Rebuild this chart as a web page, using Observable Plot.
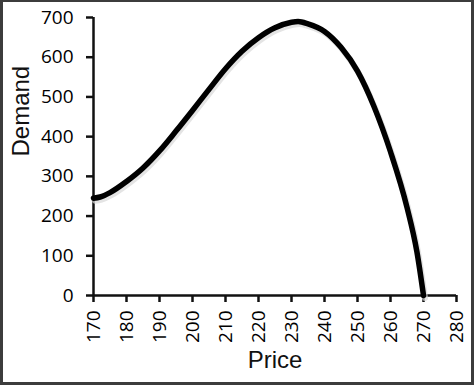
<!DOCTYPE html>
<html>
<head>
<meta charset="utf-8">
<script src="https://cdn.jsdelivr.net/npm/d3@7"></script>
<script src="https://cdn.jsdelivr.net/npm/@observablehq/plot@0.6"></script>
<style>
  html, body { margin: 0; padding: 0; background: #fff; }
  #wrap { position: relative; width: 474px; height: 385px; }
  #wrap svg { display: block; }
  #frame { position: absolute; left: 0; top: 0; width: 474px; height: 385px; box-sizing: border-box;
           border-style: solid; border-color: #3c3c3c; border-width: 2px 3px 3px 3px; pointer-events: none; }
</style>
</head>
<body>
<div id="wrap"><div id="frame"></div></div>
<script>
const price = [170, 172, 175, 180, 185, 190, 195, 200, 205, 210, 215, 220, 225, 230, 232, 235, 240, 245, 250, 255, 260, 265, 268, 270];
const demand = [245, 248, 259, 287, 321, 364, 414, 466, 519, 571, 615, 649, 674, 688, 690, 684, 665, 625, 565, 476, 362, 222, 110, 0];
const xTicks = [170, 180, 190, 200, 210, 220, 230, 240, 250, 260, 270, 280];
const yTicks = [0, 100, 200, 300, 400, 500, 600, 700];
const xLabel = "Price";
const yLabel = "Demand";

const data = price.map((p, i) => ({price: p, demand: demand[i]}));

const chart = Plot.plot({
  width: 474,
  height: 385,
  marginLeft: 93,
  marginRight: 18,
  marginTop: 17,
  marginBottom: 90,
  style: {background: "#fff", color: "#000"},
  x: {domain: [170, 280]},
  y: {domain: [0, 700]},
  marks: [
    Plot.axisY({ticks: yTicks, tickSize: 7, tickPadding: 13, fontSize: 19, fontFamily: "Open Sans", label: null, strokeWidth: 2.5, stroke: "#111"}),
    Plot.axisX({ticks: xTicks, tickSize: 7, tickPadding: 8, tickRotate: -90, fontSize: 19, fontFamily: "Open Sans", label: null, strokeWidth: 2.5, stroke: "#111"}),
    Plot.ruleY([0], {stroke: "#111", strokeWidth: 2.5}),
    Plot.ruleX([170], {stroke: "#111", strokeWidth: 2.5}),
    Plot.line(data, {x: "price", y: "demand", curve: "monotone-x", stroke: "#d8d8d8", strokeWidth: 6, dx: 1.5, dy: 2.5, strokeOpacity: 0.7}),
    Plot.line(data, {x: "price", y: "demand", curve: "monotone-x", stroke: "#000", strokeWidth: 5.5}),
    Plot.text([xLabel], {frameAnchor: "bottom", lineAnchor: "bottom", dy: 72, fontSize: 24, fontFamily: "Liberation Sans", fill: "#111"}),
    Plot.text([yLabel], {frameAnchor: "left", lineAnchor: "bottom", rotate: -90, dx: -65, fontSize: 24, fontFamily: "Liberation Sans", fill: "#111"})
  ]
});
document.getElementById("wrap").prepend(chart);
</script>
</body>
</html>
